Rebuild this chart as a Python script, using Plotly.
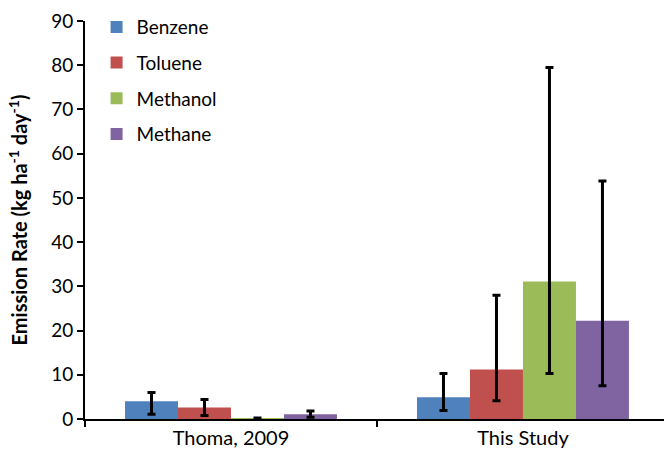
import plotly.graph_objects as go

# Study categories and compounds
categories = ["Thoma, 2009", "This Study"]
compounds = ["Benzene", "Toluene", "Methanol", "Methane"]
colors = ["#4F81BD", "#C0504D", "#9BBB59", "#8064A2"]

# Mean emission rates (kg ha-1 day-1) per compound, per study
means = {
    "Benzene":  [4.0, 4.9],
    "Toluene":  [2.6, 11.2],
    "Methanol": [0.1, 31.1],
    "Methane":  [1.1, 22.2],
}
# Upper and lower bounds of the error ranges
upper = {
    "Benzene":  [6.0, 10.3],
    "Toluene":  [4.4, 28.0],
    "Methanol": [0.2, 79.5],
    "Methane":  [1.8, 53.8],
}
lower = {
    "Benzene":  [1.1, 1.9],
    "Toluene":  [0.8, 4.1],
    "Methanol": [0.0, 10.3],
    "Methane":  [0.4, 7.5],
}

y_ticks = [0, 10, 20, 30, 40, 50, 60, 70, 80, 90]

FONT = "Lato, Calibri, Carlito, sans-serif"

fig = go.Figure()
for name, color in zip(compounds, colors):
    m = means[name]
    fig.add_trace(go.Bar(
        name=name,
        x=categories,
        y=m,
        marker=dict(color=color, line=dict(width=0)),
        legendgroup=name,
        error_y=dict(
            type="data",
            symmetric=False,
            array=[u - v for u, v in zip(upper[name], m)],
            arrayminus=[v - l for v, l in zip(m, lower[name])],
            color="black",
            thickness=3,
            width=4,
        ),
    ))

fig.update_layout(
    width=664,
    height=458,
    margin=dict(l=85, r=0, t=21, b=39),
    paper_bgcolor="white",
    plot_bgcolor="white",
    barmode="group",
    bargap=0.274,
    bargroupgap=0,
    font=dict(family=FONT, color="black", size=19),
    legend=dict(
        x=0.02, y=1.0325, xanchor="left", yanchor="top",
        traceorder="grouped", tracegroupgap=8,
        font=dict(family=FONT, size=19, color="black"),
        bgcolor="rgba(0,0,0,0)",
    ),
    xaxis=dict(
        type="category",
        range=[-0.5, 1.483],
        showline=True, linecolor="black", linewidth=2,
        ticks="outside", tickson="boundaries", ticklen=6,
        tickcolor="black", tickwidth=2,
        showgrid=False, zeroline=False,
        tickfont=dict(family=FONT, size=20, color="black"),
    ),
    yaxis=dict(
        range=[0, 90],
        tickvals=y_ticks,
        showline=True, linecolor="black", linewidth=2,
        ticks="outside", ticklen=6, tickcolor="black", tickwidth=2,
        showgrid=False, zeroline=False,
        tickfont=dict(family=FONT, size=19, color="black"),
        title=dict(
            text="<b>Emission Rate (kg ha<sup>-1</sup> day<sup>-1</sup>)</b>",
            font=dict(family=FONT, size=20, color="black"),
            standoff=18,
        ),
    ),
)

fig.write_html("out.html")
